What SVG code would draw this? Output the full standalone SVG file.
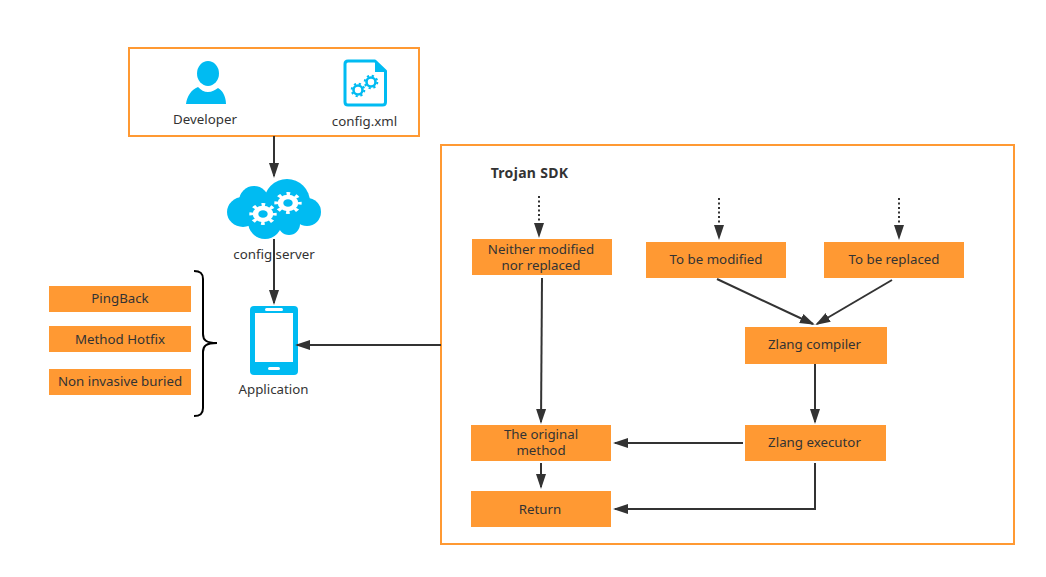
<svg xmlns="http://www.w3.org/2000/svg" width="1046" height="577" viewBox="0 0 1046 577">
<style>
text{font-family:"Noto Sans","Open Sans",sans-serif;font-size:13.3px;fill:#333;text-anchor:middle}
.frame{fill:#fff;stroke:#ff9933;stroke-width:2}
.o{fill:#ff9933}
.i{fill:#00bbf2}
.c{fill:none;stroke:#333;stroke-width:2}
.d{stroke-dasharray:2 2.5}
.b{fill:none;stroke:#000;stroke-width:2}
</style>
<defs>
<marker id="ah" markerUnits="userSpaceOnUse" markerWidth="16" markerHeight="12" viewBox="0 0 16 12" refX="13" refY="6" orient="auto"><path d="M0 1L15 6L0 11Z" fill="#333"/></marker>
<g id="gw" transform="scale(1 .8)"><circle r="7.5" fill="none" stroke="#fff" stroke-width="5.600"/><circle r="11.5" fill="none" stroke="#fff" stroke-width="4.400" stroke-dasharray="3.600 5.430" stroke-dashoffset="1.800"/></g>
<g id="gb"><circle r="4.500" fill="none" stroke="#00bbf2" stroke-width="2.600"/><circle r="6.300" fill="none" stroke="#00bbf2" stroke-width="2" stroke-dasharray="2.200 2.750"/></g>
</defs>
<g id="developer-box"><rect class="frame" x="129" y="48" width="290" height="88"/></g>
<g id="developer"><ellipse class="i" cx="208" cy="73.500" rx="11" ry="12.500"/><path class="i" d="M186 104C187 96 191 90 198 87C201 90 204 92 208 92C212 92 215 90 218 88C222 90 226 96 226 104Z"/><text x="205" y="124">Developer</text></g>
<g id="config-xml"><path d="M348 61H375L385.500 71V102Q385.500 105 382.500 105H348Q345 105 345 102V64Q345 61 348 61Z" fill="#fff" stroke="#00bbf2" stroke-width="3" stroke-linejoin="round"/><path class="i" d="M375 60L387 72H375Z"/><use href="#gb" x="358" y="90"/><use href="#gb" x="371" y="82"/><text x="364.500" y="126">config.xml</text></g>
<g id="config-server"><g class="i"><ellipse cx="243" cy="212" rx="16" ry="15"/><circle cx="254" cy="201" r="15"/><circle cx="287" cy="202" r="23"/><circle cx="307" cy="212" r="14"/><circle cx="265" cy="222" r="17"/><circle cx="289" cy="224" r="11"/><rect x="250" y="200" width="50" height="24"/></g><use href="#gw" transform="translate(263 214)"/><use href="#gw" transform="translate(288 203)"/><text x="274" y="259">config server</text></g>
<g id="application"><rect class="i" x="250" y="306" width="48" height="69" rx="4"/><rect x="255" y="313" width="38" height="49" fill="#fff"/><rect x="265" y="308" width="18" height="3" rx="1.500" fill="#fff"/><rect x="268" y="367" width="12" height="3" rx="1.500" fill="#fff"/><text x="273.500" y="394">Application</text></g>
<g id="pingback"><rect class="o" x="49" y="286" width="142" height="26"/><text x="120" y="303">PingBack</text></g>
<g id="method-hotfix"><rect class="o" x="49" y="326" width="142" height="26"/><text x="120" y="344">Method Hotfix</text></g>
<g id="non-invasive"><rect class="o" x="49" y="369" width="142" height="26"/><text x="120" y="385.500">Non invasive buried</text></g>
<g id="brace"><path class="b" d="M194 271C200 271 203 273 203 279V334C203 340 206 343 217 343C206 343 203 346 203 352V408C203 414 200 416 194 416"/></g>
<g id="trojan-sdk"><rect class="frame" x="441" y="145" width="573" height="399"/><text x="529.500" y="178" style="font-weight:700;font-size:14px;letter-spacing:.3px">Trojan SDK</text></g>
<g id="neither"><rect class="o" x="472" y="239" width="140" height="36"/><text x="541" y="254">Neither modified</text><text x="541" y="270">nor replaced</text></g>
<g id="to-be-modified"><rect class="o" x="646" y="242" width="140" height="36"/><text x="716" y="264">To be modified</text></g>
<g id="to-be-replaced"><rect class="o" x="824" y="242" width="140" height="36"/><text x="894" y="264">To be replaced</text></g>
<g id="zlang-compiler"><rect class="o" x="745" y="327" width="142" height="37"/><text x="814.500" y="349">Zlang compiler</text></g>
<g id="zlang-executor"><rect class="o" x="745" y="425" width="141" height="36"/><text x="814.500" y="447">Zlang executor</text></g>
<g id="original-method"><rect class="o" x="471" y="425" width="140" height="36"/><text x="541" y="439">The original</text><text x="541" y="455">method</text></g>
<g id="return"><rect class="o" x="471" y="491" width="140" height="36"/><text x="540" y="514">Return</text></g>
<g id="connectors">
<path class="c" marker-end="url(#ah)" d="M274 136V176"/>
<path class="c" marker-end="url(#ah)" d="M274 239V303"/>
<path class="c" marker-end="url(#ah)" d="M441 345H297"/>
<path class="c d" marker-end="url(#ah)" d="M539 196V236"/>
<path class="c d" marker-end="url(#ah)" d="M719 198V238"/>
<path class="c d" marker-end="url(#ah)" d="M899 198V238"/>
<path class="c" marker-end="url(#ah)" d="M717 279L813 324"/>
<path class="c" marker-end="url(#ah)" d="M892 280L817 324"/>
<path class="c" marker-end="url(#ah)" d="M815 364V422"/>
<path class="c" marker-end="url(#ah)" d="M542 278L541 422"/>
<path class="c" marker-end="url(#ah)" d="M743 443H615"/>
<path class="c" marker-end="url(#ah)" d="M541 463V487"/>
<path class="c" marker-end="url(#ah)" d="M815 463V509H615"/>
</g>
</svg>
